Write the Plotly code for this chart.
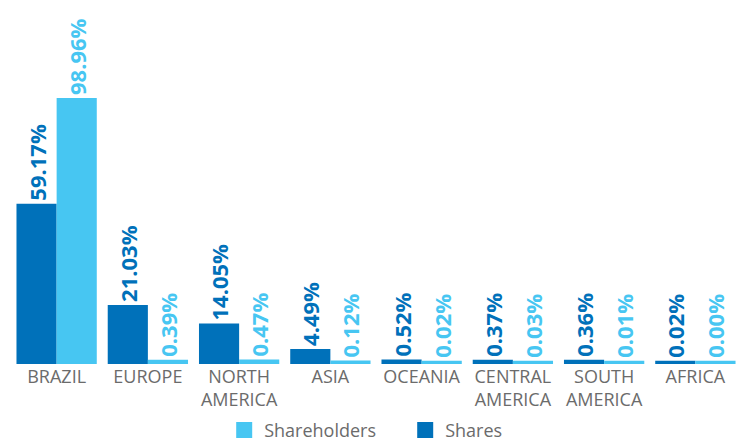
import plotly.graph_objects as go

categories = ["BRAZIL", "EUROPE", "NORTH<br>AMERICA", "ASIA", "OCEANIA",
              "CENTRAL<br>AMERICA", "SOUTH<br>AMERICA", "AFRICA"]
shares = [59.17, 21.03, 14.05, 4.49, 0.52, 0.37, 0.36, 0.02]
shareholders = [98.96, 0.39, 0.47, 0.12, 0.02, 0.03, 0.01, 0.00]

DARK = "#0071BA"
LIGHT = "#47C6F2"
GRAY = "#6B6B6B"
PAD = 1.2  # minimum visible bar stub below zero

def bar(name, vals, color):
    return go.Bar(
        name=name, x=categories,
        y=[v + PAD for v in vals], base=-PAD,
        marker=dict(color=color, line=dict(width=0)),
        text=[f"{v:.2f}%" for v in vals],
        textposition="outside", textangle=-90, constraintext="none",
        cliponaxis=False, showlegend=False,
        textfont=dict(family="Open Sans", size=22, color=color, weight="bold"),
        hoverinfo="skip",
    )

def legend_entry(name, color):
    return go.Scatter(
        name=name, x=[None], y=[None], mode="markers",
        marker=dict(symbol="square", size=16, color=color, line=dict(width=0)),
        showlegend=True, hoverinfo="skip",
    )

fig = go.Figure([
    bar("Shares", shares, DARK),
    bar("Shareholders", shareholders, LIGHT),
    legend_entry("Shareholders", LIGHT),
    legend_entry("Shares", DARK),
])

fig.update_layout(
    width=745, height=441,
    margin=dict(l=11, r=4, t=10, b=77, autoexpand=False),
    paper_bgcolor="white", plot_bgcolor="white",
    barmode="group", bargap=0.12, bargroupgap=0,
    font=dict(family="Open Sans", size=18, color=GRAY),
    xaxis=dict(showgrid=False, zeroline=False, showline=False, ticks="",
               automargin=False,
               tickfont=dict(family="Open Sans", size=18, color=GRAY)),
    yaxis=dict(visible=False, range=[-PAD, 132.1], automargin=False),
    legend=dict(orientation="h", x=0.54, xanchor="center",
                yref="container", y=0.024, yanchor="middle",
                itemsizing="trace", entrywidth=136, entrywidthmode="pixels",
                font=dict(family="Open Sans", size=18, color=GRAY)),
)

fig.write_html("out.html")
